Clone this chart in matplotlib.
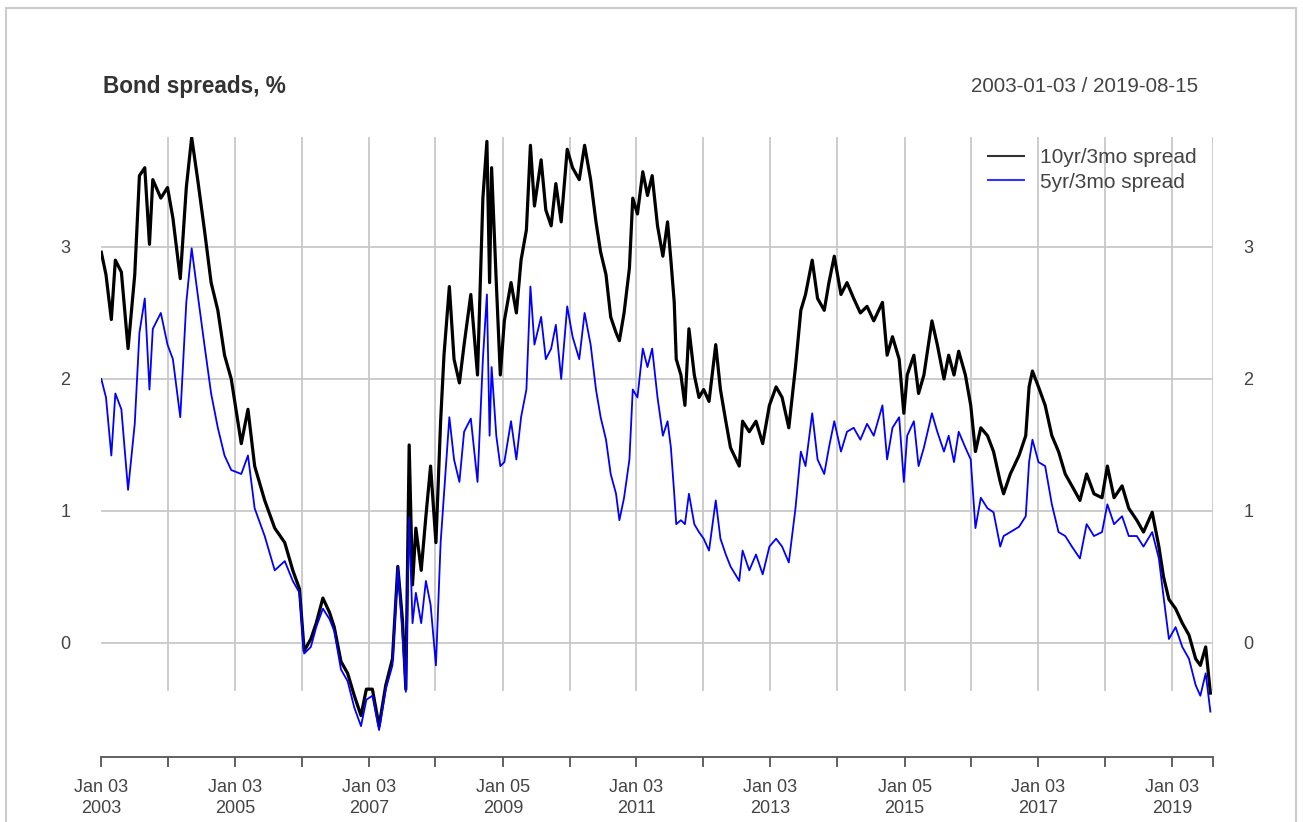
import numpy as np
import pandas as pd
import matplotlib
matplotlib.use("Agg")
import matplotlib.pyplot as plt
from matplotlib.lines import Line2D
from matplotlib.patches import Rectangle

plt.rcParams["font.family"] = ["Liberation Sans", "DejaVu Sans"]

# sample dates (decimal years)
years = [
    2003.01, 2003.08, 2003.16, 2003.22, 2003.31, 2003.41, 2003.51, 2003.58, 2003.66, 2003.73,
    2003.78, 2003.90, 2004.00, 2004.08, 2004.19, 2004.28, 2004.36, 2004.45, 2004.55, 2004.65,
    2004.75, 2004.85, 2004.95, 2005.10, 2005.20, 2005.30, 2005.45, 2005.60, 2005.75, 2005.87,
    2005.97, 2006.04, 2006.14, 2006.22, 2006.32, 2006.42, 2006.49, 2006.59, 2006.69, 2006.79,
    2006.89, 2006.97, 2007.06, 2007.16, 2007.26, 2007.36, 2007.44, 2007.51, 2007.56, 2007.61,
    2007.66, 2007.71, 2007.79, 2007.86, 2007.93, 2008.01, 2008.08, 2008.13, 2008.21, 2008.28,
    2008.36, 2008.43, 2008.53, 2008.63, 2008.71, 2008.77, 2008.81, 2008.84, 2008.91, 2008.97,
    2009.03, 2009.13, 2009.21, 2009.28, 2009.36, 2009.42, 2009.48, 2009.58, 2009.65, 2009.73,
    2009.80, 2009.88, 2009.97, 2010.05, 2010.15, 2010.23, 2010.32, 2010.40, 2010.47, 2010.55,
    2010.62, 2010.70, 2010.75, 2010.82, 2010.90, 2010.95, 2011.02, 2011.10, 2011.17, 2011.24,
    2011.32, 2011.40, 2011.47, 2011.52, 2011.57, 2011.60, 2011.67, 2011.73, 2011.79, 2011.87,
    2011.94, 2012.01, 2012.09, 2012.19, 2012.26, 2012.34, 2012.41, 2012.54, 2012.59, 2012.69,
    2012.79, 2012.89, 2012.99, 2013.09, 2013.18, 2013.28, 2013.38, 2013.46, 2013.53, 2013.63,
    2013.71, 2013.81, 2013.88, 2013.96, 2014.06, 2014.15, 2014.25, 2014.35, 2014.45, 2014.55,
    2014.68, 2014.75, 2014.83, 2014.93, 2015.00, 2015.05, 2015.15, 2015.22, 2015.30, 2015.42,
    2015.50, 2015.60, 2015.67, 2015.75, 2015.82, 2015.92, 2016.00, 2016.07, 2016.15, 2016.25,
    2016.34, 2016.44, 2016.49, 2016.59, 2016.72, 2016.82, 2016.87, 2016.92, 2017.01, 2017.11,
    2017.21, 2017.31, 2017.41, 2017.51, 2017.63, 2017.73, 2017.84, 2017.96, 2018.04, 2018.14,
    2018.26, 2018.36, 2018.48, 2018.58, 2018.71, 2018.81, 2018.88, 2018.96, 2019.06, 2019.16,
    2019.26, 2019.36, 2019.43, 2019.51, 2019.58,
]

spread_10y3m = [
    2.96, 2.79, 2.45, 2.90, 2.81, 2.23, 2.79, 3.54, 3.60, 3.02,
    3.51, 3.37, 3.45, 3.22, 2.76, 3.45, 3.83, 3.51, 3.13, 2.73,
    2.52, 2.18, 2.00, 1.51, 1.77, 1.34, 1.08, 0.87, 0.76, 0.55,
    0.41, -0.06, 0.03, 0.15, 0.34, 0.23, 0.12, -0.14, -0.23, -0.40,
    -0.55, -0.35, -0.35, -0.63, -0.32, -0.12, 0.58, 0.17, -0.35, 1.50,
    0.44, 0.87, 0.55, 0.96, 1.34, 0.76, 1.68, 2.18, 2.70, 2.15,
    1.97, 2.26, 2.64, 2.03, 3.37, 3.80, 2.73, 3.60, 2.73, 2.03,
    2.44, 2.73, 2.50, 2.90, 3.13, 3.77, 3.31, 3.66, 3.28, 3.16,
    3.48, 3.19, 3.74, 3.60, 3.51, 3.77, 3.51, 3.19, 2.96, 2.79,
    2.47, 2.35, 2.29, 2.50, 2.84, 3.37, 3.25, 3.57, 3.39, 3.54,
    3.16, 2.93, 3.19, 2.90, 2.58, 2.15, 2.03, 1.80, 2.38, 2.03,
    1.86, 1.92, 1.83, 2.26, 1.92, 1.68, 1.48, 1.34, 1.68, 1.60,
    1.68, 1.51, 1.80, 1.94, 1.86, 1.63, 2.09, 2.52, 2.64, 2.90,
    2.61, 2.52, 2.73, 2.93, 2.64, 2.73, 2.61, 2.50, 2.55, 2.44,
    2.58, 2.18, 2.32, 2.15, 1.74, 2.03, 2.18, 1.89, 2.03, 2.44,
    2.26, 2.00, 2.18, 2.03, 2.21, 2.03, 1.80, 1.45, 1.63, 1.57,
    1.45, 1.22, 1.13, 1.28, 1.42, 1.57, 1.94, 2.06, 1.94, 1.80,
    1.57, 1.45, 1.28, 1.19, 1.08, 1.28, 1.13, 1.10, 1.34, 1.10,
    1.19, 1.02, 0.93, 0.84, 0.99, 0.73, 0.50, 0.33, 0.26, 0.15,
    0.06, -0.12, -0.17, -0.03, -0.38,
]

spread_5y3m = [
    2.00, 1.86, 1.42, 1.89, 1.77, 1.16, 1.66, 2.35, 2.61, 1.92,
    2.38, 2.50, 2.26, 2.15, 1.71, 2.58, 2.99, 2.64, 2.26, 1.89,
    1.63, 1.42, 1.31, 1.28, 1.42, 1.02, 0.81, 0.55, 0.62, 0.47,
    0.38, -0.08, -0.03, 0.12, 0.26, 0.18, 0.09, -0.20, -0.29, -0.49,
    -0.63, -0.43, -0.40, -0.66, -0.35, -0.17, 0.58, 0.06, -0.37, 0.95,
    0.15, 0.38, 0.15, 0.47, 0.29, -0.17, 0.76, 1.13, 1.71, 1.39,
    1.22, 1.60, 1.70, 1.22, 2.15, 2.64, 1.57, 2.09, 1.57, 1.34,
    1.37, 1.68, 1.39, 1.71, 1.92, 2.70, 2.26, 2.47, 2.15, 2.23,
    2.41, 2.00, 2.55, 2.32, 2.15, 2.50, 2.26, 1.92, 1.71, 1.54,
    1.28, 1.13, 0.93, 1.10, 1.39, 1.92, 1.86, 2.23, 2.09, 2.23,
    1.86, 1.57, 1.68, 1.48, 1.13, 0.90, 0.93, 0.90, 1.13, 0.90,
    0.84, 0.79, 0.70, 1.08, 0.79, 0.67, 0.58, 0.47, 0.70, 0.55,
    0.67, 0.52, 0.73, 0.79, 0.73, 0.61, 1.02, 1.45, 1.34, 1.74,
    1.39, 1.28, 1.48, 1.68, 1.45, 1.60, 1.63, 1.54, 1.66, 1.57,
    1.80, 1.39, 1.63, 1.71, 1.22, 1.57, 1.68, 1.34, 1.48, 1.74,
    1.60, 1.45, 1.57, 1.37, 1.60, 1.48, 1.39, 0.87, 1.10, 1.02,
    0.99, 0.73, 0.81, 0.84, 0.88, 0.96, 1.37, 1.54, 1.37, 1.34,
    1.05, 0.84, 0.81, 0.73, 0.64, 0.90, 0.81, 0.84, 1.05, 0.90,
    0.96, 0.81, 0.81, 0.73, 0.84, 0.64, 0.35, 0.03, 0.12, -0.03,
    -0.12, -0.32, -0.40, -0.23, -0.52,
]

start_date = "2003-01-03"
end_date = "2019-08-15"
year_ticks = ["2003-01-03", "2004-01-02", "2005-01-03", "2006-01-03", "2007-01-03",
              "2008-01-02", "2009-01-05", "2010-01-04", "2011-01-03", "2012-01-03",
              "2013-01-03", "2014-01-02", "2015-01-05", "2016-01-04", "2017-01-03",
              "2018-01-02", "2019-01-03"]
y_ticks = [0, 1, 2, 3]


def to_dates(decimal_years):
    out = []
    for y in decimal_years:
        yr = int(y)
        base = pd.Timestamp(yr, 1, 1)
        days = (pd.Timestamp(yr + 1, 1, 1) - base).days
        out.append(base + pd.Timedelta(days=(y - yr) * days))
    return out


dates = to_dates(years)
tick_dates = pd.to_datetime(year_ticks + [end_date])

fig = plt.figure(figsize=(13.03, 8.22), dpi=100)
W, H = 1303, 822
ax = fig.add_axes([101 / W, 1 - 757 / H, (1213 - 101) / W, (757 - 137) / H])

grid_col = "#c8c8c8"
txt_col = "#444444"

ax.set_xlim(pd.Timestamp(start_date), pd.Timestamp(end_date))
ax.set_ylim(-0.864, 3.833)

# vertical grid at each year start and at the last date
for d in list(tick_dates[1:]):
    ax.axvline(d, ymin=0.108, ymax=1.0, color=grid_col, lw=1.3, zorder=0)
for v in y_ticks:
    ax.axhline(v, color=grid_col, lw=1.3, zorder=0)

ax.plot(dates, spread_10y3m, color="black", lw=2.3, zorder=2)
ax.plot(dates, spread_5y3m, color="#0000ff", lw=1.3, zorder=3)

for s in ["top", "left", "right"]:
    ax.spines[s].set_visible(False)
ax.spines["bottom"].set_color("#555555")
ax.spines["bottom"].set_linewidth(1.3)

labels = []
for i, d in enumerate(tick_dates):
    if i < len(year_ticks) and i % 2 == 0:
        labels.append(d.strftime("%b %d\n%Y"))
    else:
        labels.append("")
ax.set_xticks(tick_dates)
ax.set_xticklabels(labels, color=txt_col, fontsize=13, linespacing=1.3)
ax.tick_params(axis="x", direction="out", length=7, width=1.3, color="#555555", pad=9)

ax.set_yticks(y_ticks)
ax.set_yticklabels([str(v) for v in y_ticks], color=txt_col, fontsize=13)
ax.tick_params(axis="y", length=0, labelleft=True, labelright=True, pad=22)

handles = [Line2D([], [], color="#333333", lw=1.5),
           Line2D([], [], color="#3333ff", lw=1.5)]
ax.legend(handles, ["10yr/3mo spread", "5yr/3mo spread"], loc="upper right",
          bbox_to_anchor=(1205 / W, 1 - 140 / H), bbox_transform=fig.transFigure,
          frameon=False, fontsize=15, handlelength=1.75, handletextpad=0.75,
          labelspacing=0.25, labelcolor=txt_col, borderaxespad=0)

fig.text(103 / W, 1 - 86 / H, "Bond spreads, %", fontsize=16.3, fontweight="bold",
         color="#333333", va="center", ha="left")
fig.text(1198 / W, 1 - 86 / H, f"{start_date} / {end_date}", fontsize=14.9,
         color=txt_col, va="center", ha="right")

fig.patches.append(Rectangle((6 / W, -0.1), (1296 - 6) / W, 1 - 8 / H + 0.1,
                             transform=fig.transFigure, fill=False,
                             edgecolor="#cccccc", lw=1.5))

fig.savefig("out.png", dpi=100, facecolor="white")
